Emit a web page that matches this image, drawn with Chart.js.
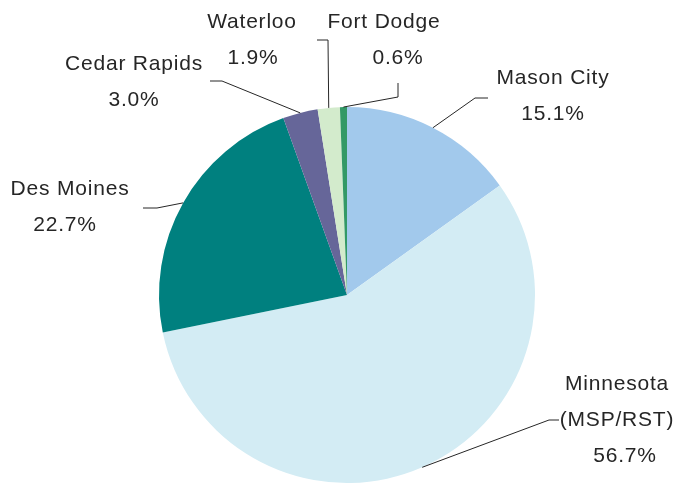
<!DOCTYPE html>
<html>
<head>
<meta charset="utf-8">
<script src="https://cdn.jsdelivr.net/npm/chart.js@4"></script>
<style>
  html, body { margin: 0; padding: 0; background: #fff; }
  #wrap { width: 686px; height: 483px; position: relative; }
</style>
</head>
<body>
<div id="wrap"><canvas id="pie"></canvas></div>
<script>
// data
const regions = ["Mason City", "Minnesota (MSP/RST)", "Des Moines", "Cedar Rapids", "Waterloo", "Fort Dodge"];
const shares = [15.1, 56.7, 22.7, 3.0, 1.9, 0.6];
const labelLines = [["Mason City"], ["Minnesota", "(MSP/RST)"], ["Des Moines"], ["Cedar Rapids"], ["Waterloo"], ["Fort Dodge"]];

const SLICE_COLORS = ["#a2c9ec", "#d3ecf4", "#00807f", "#666699", "#d3ebcc", "#339966"];

// label placement: text centre x, first line y, and the elbow of the leader line
const LABEL_POS = [
  { x: 553, y: 78, pctX: 553, elbow: [[488, 98], [475, 98]] },
  { x: 617, y: 384, pctX: 625, elbow: [[559, 420], [549, 420]] },
  { x: 70, y: 189, pctX: 65, elbow: [[143, 208], [157, 208]] },
  { x: 134, y: 64, pctX: 134, elbow: [[210, 81], [222, 81]] },
  { x: 252, y: 22, pctX: 253, elbow: [[317, 40], [328, 40]] },
  { x: 384, y: 22, pctX: 398, elbow: [[398, 83], [398, 97]] },
];

const pieLabels = {
  id: "pieLabels",
  afterDatasetsDraw(chart) {
    const ctx = chart.ctx;
    const arcs = chart.getDatasetMeta(0).data;
    ctx.save();
    arcs.forEach((arc, i) => {
      const p = LABEL_POS[i];
      const mid = (arc.startAngle + arc.endAngle) / 2;
      const ax = arc.x + Math.cos(mid) * arc.outerRadius;
      const ay = arc.y + Math.sin(mid) * arc.outerRadius;
      ctx.strokeStyle = "#262626";
      ctx.lineWidth = 1;
      ctx.beginPath();
      ctx.moveTo(p.elbow[0][0], p.elbow[0][1]);
      ctx.lineTo(p.elbow[1][0], p.elbow[1][1]);
      ctx.lineTo(ax, ay);
      ctx.stroke();

      ctx.fillStyle = "#262626";
      ctx.font = "21px 'Liberation Sans', sans-serif";
      ctx.letterSpacing = "0.8px";
      ctx.textAlign = "center";
      ctx.textBaseline = "middle";
      const lines = labelLines[i];
      lines.forEach((t, k) => ctx.fillText(t, p.x, p.y + k * 36));
      ctx.fillText(shares[i].toFixed(1) + "%", p.pctX, p.y + lines.length * 36);
    });
    ctx.restore();
  },
};

new Chart(document.getElementById("pie"), {
  type: "pie",
  data: {
    labels: regions,
    datasets: [{ data: shares, backgroundColor: SLICE_COLORS, borderWidth: 0 }],
  },
  options: {
    responsive: true,
    maintainAspectRatio: false,
    animation: false,
    layout: { padding: { top: 107, bottom: 0, left: 100, right: 92 } },
    plugins: { legend: { display: false }, tooltip: { enabled: false } },
  },
  plugins: [pieLabels],
});
</script>
</body>
</html>
